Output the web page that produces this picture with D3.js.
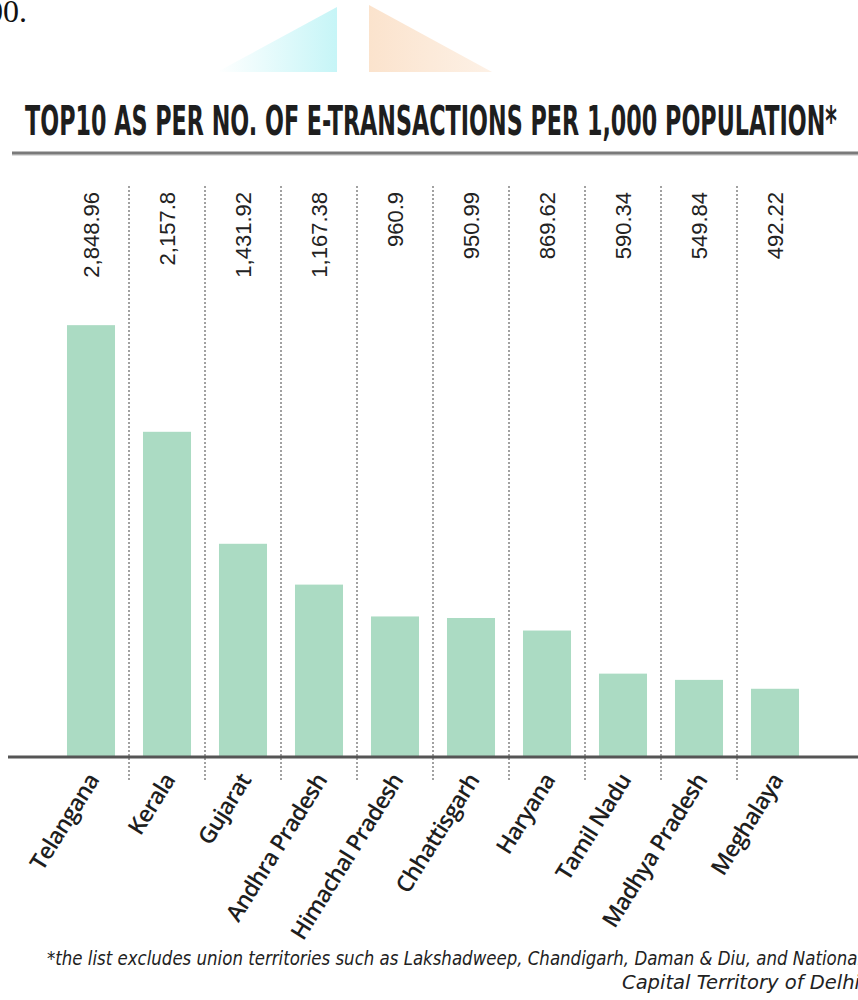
<!DOCTYPE html>
<html>
<head>
<meta charset="utf-8">
<script src="https://cdn.jsdelivr.net/npm/d3@7.9.0/dist/d3.min.js"></script>
<style>
  body { margin: 0; background: #fff; }
  svg { display: block; }
</style>
</head>
<body>
<svg id="chart" width="858" height="1000"></svg>
<script>
// data
const states = ["Telangana", "Kerala", "Gujarat", "Andhra Pradesh", "Himachal Pradesh",
                "Chhattisgarh", "Haryana", "Tamil Nadu", "Madhya Pradesh", "Meghalaya"];
const values = [2848.96, 2157.8, 1431.92, 1167.38, 960.9, 950.99, 869.62, 590.34, 549.84, 492.22];
const valueLabels = ["2,848.96", "2,157.8", "1,431.92", "1,167.38", "960.9",
                     "950.99", "869.62", "590.34", "549.84", "492.22"];
const titleText = "TOP10 AS PER NO. OF E-TRANSACTIONS PER 1,000 POPULATION*";
const noteLines = ["*the list excludes union territories such as Lakshadweep, Chandigarh, Daman & Diu, and National",
                   "Capital Territory of Delhi"];

const data = states.map((s, i) => ({ state: s, value: values[i], label: valueLabels[i] }));

const svg = d3.select("#chart");
const baseY = 757;

// top decoration, left over from the page above the chart
const defs = svg.append("defs");
const g1 = defs.append("linearGradient").attr("id", "cyanFade").attr("x1", "0").attr("x2", "1");
g1.append("stop").attr("offset", "0").attr("stop-color", "#ffffff");
g1.append("stop").attr("offset", "1").attr("stop-color", "#c6f5f7");
const g2 = defs.append("linearGradient").attr("id", "peachFade").attr("x1", "0").attr("x2", "1");
g2.append("stop").attr("offset", "0").attr("stop-color", "#fbe3cd");
g2.append("stop").attr("offset", "1").attr("stop-color", "#fdf1e6");

svg.append("path").attr("d", "M217,72 L337,72 L337,7 Z").attr("fill", "url(#cyanFade)");
svg.append("path").attr("d", "M369,5 L369,72 L492,72 Z").attr("fill", "url(#peachFade)");

svg.append("text")
    .attr("x", 27).attr("y", 22)
    .attr("text-anchor", "end")
    .attr("font-family", "'Liberation Serif', 'DejaVu Serif', serif")
    .attr("font-size", 32)
    .attr("fill", "#111")
    .text("00.");

// title
svg.append("text")
    .attr("x", 25).attr("y", 135)
    .attr("font-family", "'DejaVu Sans Condensed', sans-serif")
    .attr("font-weight", 700)
    .attr("font-size", 41)
    .attr("fill", "#1e1e1e")
    .attr("textLength", 812)
    .attr("lengthAdjust", "spacingAndGlyphs")
    .text(titleText);

svg.append("line")
    .attr("x1", 12).attr("x2", 858).attr("y1", 155).attr("y2", 155)
    .attr("stroke", "#dddddd").attr("stroke-width", 2);
svg.append("line")
    .attr("x1", 12).attr("x2", 858).attr("y1", 153).attr("y2", 153)
    .attr("stroke", "#7a7a7a").attr("stroke-width", 3);

// scales
const x = d3.scaleBand()
    .domain(states)
    .range([53, 813])
    .paddingInner(0.368)
    .paddingOuter(0.184);

const y = d3.scaleLinear()
    .domain([50, 2850])
    .range([baseY, 325]);

const gap = x.step() - x.bandwidth();

// dotted separators between the bars
svg.append("g")
  .selectAll("line")
  .data(states.slice(0, -1))
  .join("line")
    .attr("x1", d => x(d) + x.bandwidth() + gap / 2)
    .attr("x2", d => x(d) + x.bandwidth() + gap / 2)
    .attr("y1", 186)
    .attr("y2", 781)
    .attr("stroke", "#555")
    .attr("stroke-width", 1.1)
    .attr("stroke-dasharray", "2,2");

// bars
svg.append("g")
  .selectAll("rect")
  .data(data)
  .join("rect")
    .attr("x", d => x(d.state))
    .attr("y", d => y(d.value))
    .attr("width", x.bandwidth())
    .attr("height", d => baseY - y(d.value))
    .attr("fill", "#abdbc3");

// baseline
svg.append("line")
    .attr("x1", 8).attr("x2", 858).attr("y1", baseY).attr("y2", baseY)
    .attr("stroke", "#555").attr("stroke-width", 3);

// value labels, rotated, hanging from the top
svg.append("g")
  .selectAll("text")
  .data(data)
  .join("text")
    .attr("transform", d => `translate(${x(d.state) + x.bandwidth() / 2 + 8},192) rotate(-90)`)
    .attr("text-anchor", "end")
    .attr("font-family", "'Liberation Sans', Arial, sans-serif")
    .attr("font-size", 22)
    .attr("fill", "#222")
    .text(d => d.label);

// state names
svg.append("g")
  .selectAll("text")
  .data(data)
  .join("text")
    .attr("transform", d => `translate(${x(d.state) + x.bandwidth() / 2 + 9},780) rotate(-58)`)
    .attr("text-anchor", "end")
    .attr("font-family", "'Open Sans', sans-serif")
    .attr("font-weight", 600)
    .attr("font-size", 23)
    .attr("letter-spacing", -0.7)
    .attr("fill", "#1e1e1e")
    .text(d => d.state);

// footnote
svg.append("text")
    .attr("x", 47).attr("y", 965)
    .attr("font-family", "'DejaVu Sans Condensed', sans-serif")
    .attr("font-style", "italic")
    .attr("font-size", 19)
    .attr("fill", "#222")
    .attr("textLength", 815)
    .attr("lengthAdjust", "spacingAndGlyphs")
    .text(noteLines[0]);

svg.append("text")
    .attr("x", 622).attr("y", 989)
    .attr("font-family", "'DejaVu Sans Condensed', sans-serif")
    .attr("font-style", "italic")
    .attr("font-size", 19)
    .attr("fill", "#222")
    .attr("textLength", 238)
    .attr("lengthAdjust", "spacingAndGlyphs")
    .text(noteLines[1]);
</script>
</body>
</html>
